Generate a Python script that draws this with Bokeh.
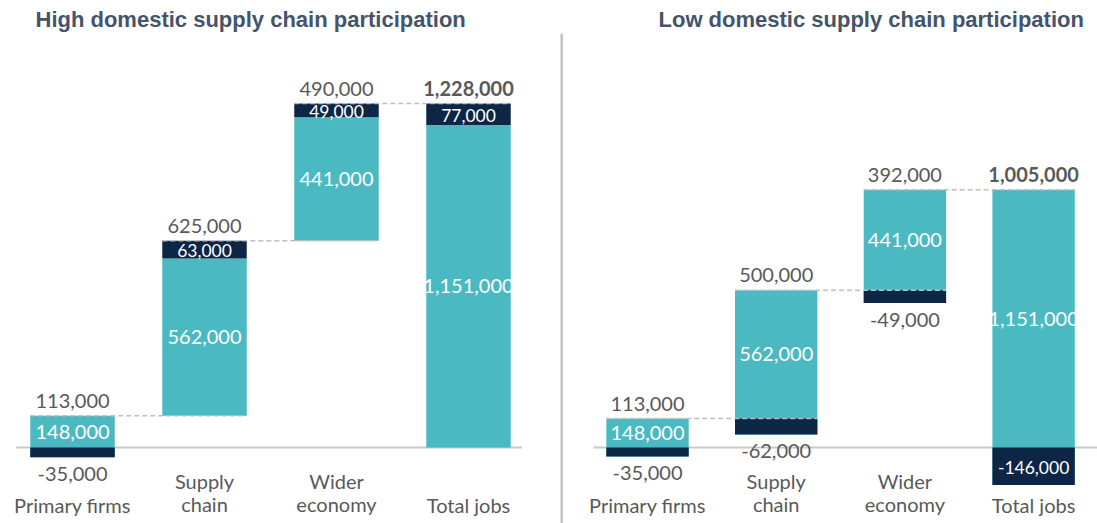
from bokeh.plotting import figure
from bokeh.models import Range1d, Span, ColumnDataSource
from bokeh.layouts import row
from bokeh.core.properties import value
from bokeh.embed import file_html
from bokeh.resources import INLINE

# ---------------- data ----------------
cat_labels = ["Primary firms", "Supply\nchain", "Wider\neconomy", "Total jobs"]

high_title = "High domestic supply chain participation"
high_gross = [148000, 562000, 441000, 1151000]
high_adj = [-35000, 63000, 49000, 77000]

low_title = "Low domestic supply chain participation"
low_gross = [148000, 562000, 441000, 1151000]
low_adj = [-35000, -62000, -49000, -146000]

# ---------------- style ----------------
TEAL = "#4BB9C2"
NAVY = "#0D2646"
GREY_TXT = "#595959"
TITLE_C = "#44546A"
DASH_C = "#BFBFBF"
ZERO_C = "#C8C8C8"
DIV_C = "#C3C3C7"
FONT = "Lato"
FS = "20px"
FS_NAVY = "17.5px"
BAR_W = 0.64
H = 523
TOP = 33


def fmt(v):
    return f"{v:,}"


def build(title, gross, adj, fig_w, xr, yr, title_off, zero_x, divider_x=None):
    p = figure(width=fig_w, height=H, x_range=Range1d(*xr), y_range=Range1d(*yr),
               output_backend="svg", toolbar_location=None,
               x_axis_location=None, y_axis_location=None,
               min_border_left=0, min_border_right=0, min_border_bottom=0,
               min_border_top=TOP)
    p.grid.visible = False
    p.outline_line_color = None
    p.background_fill_color = "white"
    p.border_fill_color = "white"
    p.title.text = title
    p.title.text_font = "Liberation Sans"
    p.title.text_font_style = "bold"
    p.title.text_font_size = "22px"
    p.title.text_color = TITLE_C
    p.title.align = "left"
    p.title.vertical_align = "top"
    p.title.text_line_height = 0.8
    p.title.offset = title_off
    p.title.standoff = 0

    n = len(gross)
    xs = list(range(n))
    starts, ends = [], []
    cum = 0
    for i in range(n):
        total = i == n - 1
        s = 0 if total else cum
        e = s + gross[i] + adj[i]
        if not total:
            cum = e
        starts.append(s)
        ends.append(e)

    teal_b = [s + min(a, 0) for s, a in zip(starts, adj)]
    teal_t = [b + g for b, g in zip(teal_b, gross)]
    navy_b = [s + a if a < 0 else s + g for s, g, a in zip(starts, gross, adj)]
    navy_t = [s if a < 0 else s + g + a for s, g, a in zip(starts, gross, adj)]

    # zero line
    p.segment(x0=[zero_x[0]], x1=[zero_x[1]], y0=[0], y1=[0], line_color=ZERO_C, line_width=2)

    p.vbar(x=xs, width=BAR_W, bottom=teal_b, top=teal_t, fill_color=TEAL, line_color=None)
    p.vbar(x=xs, width=BAR_W, bottom=navy_b, top=navy_t, fill_color=NAVY, line_color=None)

    # connectors
    cx0 = [i - BAR_W / 2 for i in range(n - 1)]
    cx1 = [i + 1 + BAR_W / 2 for i in range(n - 1)]
    cy = ends[:-1]
    p.segment(x0=cx0, x1=cx1, y0=cy, y1=cy, line_color=DASH_C, line_width=1.5, line_dash="5 3")

    # teal labels (centred in the visible teal part)
    teal_mid = [(s + (e if a < 0 else s + g)) / 2 for s, e, g, a in zip(starts, ends, gross, adj)]
    p.text(x=xs, y=teal_mid, text=[fmt(g) for g in gross], text_align="center",
           text_baseline="middle", text_color="white",
           text_font=value(FONT), text_font_size=FS)

    # navy labels
    in_x, in_y, in_t, out_x, out_y, out_t = [], [], [], [], [], []
    for i in range(n):
        if adj[i] > 0 or i == n - 1:
            in_x.append(i); in_y.append((navy_b[i] + navy_t[i]) / 2); in_t.append(fmt(adj[i]))
        else:
            out_x.append(i); out_y.append(navy_b[i]); out_t.append(fmt(adj[i]))
    p.text(x=in_x, y=in_y, text=in_t, text_align="center", text_baseline="middle",
           y_offset=1, text_color="white", text_font=value(FONT), text_font_size=FS_NAVY)
    p.text(x=out_x, y=out_y, text=out_t, text_align="center", text_baseline="top",
           y_offset=10, text_color=GREY_TXT, text_font=value(FONT), text_font_size=FS)

    # top (net) labels
    src = ColumnDataSource(dict(
        x=xs, y=ends, t=[fmt(g + a) for g, a in zip(gross, adj)],
        st=["normal"] * (n - 1) + ["bold"]))
    p.text(x="x", y="y", text="t", source=src, text_align="center", text_baseline="bottom",
           y_offset=-8, text_color=GREY_TXT, text_font=value(FONT), text_font_size=FS,
           text_font_style="st")

    # category labels
    p.text(x=xs, y=[yr[0]] * n, text=cat_labels, text_align="center", text_baseline="bottom",
           y_offset=-7, text_color=GREY_TXT, text_font=value(FONT), text_font_size=FS,
           text_line_height=0.97)

    if divider_x is not None:
        p.add_layout(Span(location=divider_x, dimension="height", line_color=DIV_C, line_width=3))
    return p


left = build(high_title, high_gross, high_adj, 563,
             (-0.5455, 3.7197), (-271320, 1477980), 35, (-0.426, 3.405), divider_x=3.708)
right = build(low_title, low_gross, low_adj, 534,
              (-0.6527, 3.4965), (-296400, 1614600), 95, (-0.42, 3.4965))

layout = row(left, right)
open("out.html", "w").write(file_html(layout, INLINE))
